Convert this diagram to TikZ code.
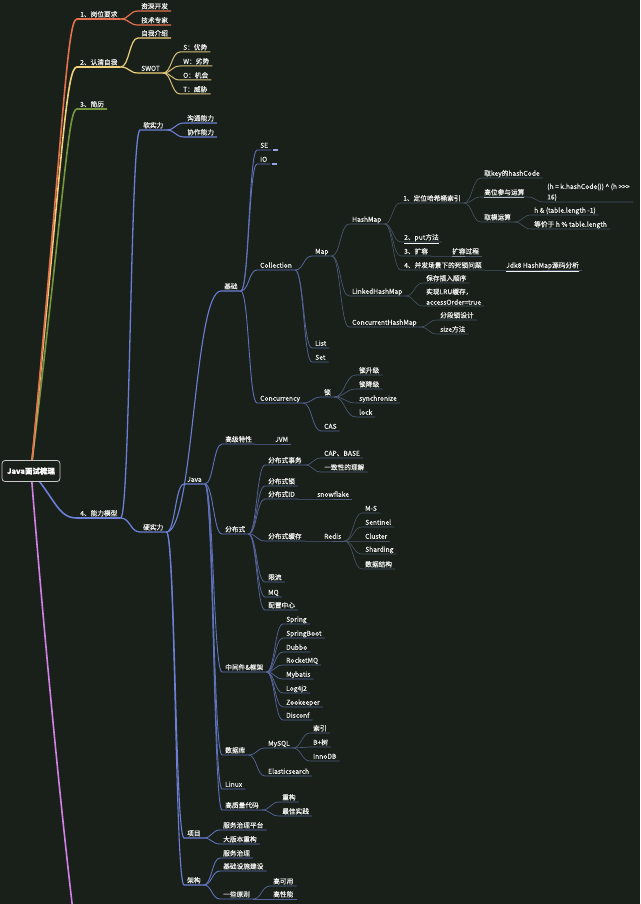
\documentclass[tikz,border=0pt]{standalone}
\usepackage{fontspec}
\setmainfont{Noto Sans CJK SC}[FakeBold=0.12]
\usetikzlibrary{calc}
\definecolor{bg}{RGB}{24,32,25}
\definecolor{ora}{RGB}{228,112,78}
\definecolor{yel}{RGB}{240,208,122}
\definecolor{grn}{RGB}{118,150,62}
\definecolor{blu}{RGB}{108,126,214}
\definecolor{bl3}{RGB}{96,114,188}
\definecolor{bl4}{RGB}{86,100,154}
\definecolor{bl5}{RGB}{78,91,124}
\definecolor{bl6}{RGB}{72,84,104}
\definecolor{pnk}{RGB}{212,128,232}
\definecolor{edge}{RGB}{200,200,200}
\tikzstyle{topic} = [anchor=south west, inner xsep=3pt, inner ysep=1pt, text height=5.6pt, text depth=1pt, text=white!95!black, font=\fontsize{6.7}{10.5}\selectfont]
\tikzstyle{twoline} = [topic, text height={}, text depth={}, align=left]
\tikzstyle{root} = [draw=edge, fill=bg, rounded corners=3pt, line width=0.8pt, minimum width=58pt, minimum height=21pt, text=white, font=\fontsize{7.5}{9}\selectfont\bfseries]
\tikzstyle{oA} = [draw=ora, line width=1.6pt]
\tikzstyle{oB} = [draw=ora, line width=1.2pt]
\tikzstyle{yA} = [draw=yel, line width=1.6pt]
\tikzstyle{yB} = [draw=yel, line width=1.2pt]
\tikzstyle{yC} = [draw=yel!80!gray, line width=1pt]
\tikzstyle{gA} = [draw=grn, line width=1.6pt]
\tikzstyle{pA} = [draw=pnk, line width=1.6pt]
\tikzstyle{bA} = [draw=blu, line width=1.6pt]
\tikzstyle{bB} = [draw=blu, line width=1.3pt]
\tikzstyle{bC} = [draw=blu, line width=1.1pt]
\tikzstyle{bD} = [draw=bl3, line width=0.9pt]
\tikzstyle{bE} = [draw=bl4, line width=0.75pt]
\tikzstyle{bF} = [draw=bl5, line width=0.65pt]
\tikzstyle{bG} = [draw=bl6, line width=0.6pt]
\tikzstyle{fold} = [draw=blu!70!white, line width=1.3pt]
\newcommand{\conn}[3][]{\draw[#1] let \p1=(#2.south east), \p2=(#3.south west) in (\p1) .. controls ({(\x1+\x2)/2},\y1) and ({(\x1+\x2)/2},\y2) .. (\p2) -- (#3.south east);}

\begin{document}
\begin{tikzpicture}[x=1pt,y=-1pt]%
	\useasboundingbox (0,0) rectangle (640,904);%
	\fill[bg] (0,0) rectangle (640,904);%
	\clip (0,0) rectangle (640,904);%
	\coordinate (rc) at (31,471);%
	\coordinate (pinkend) at (74,920);%
	% 1 - 3
	\node[topic] (job) at (77,19) {1、岗位要求};%
	\node[topic] (senior) at (138,11) {资深开发};%
	\node[topic] (expert) at (138,25) {技术专家};%
	\node[topic] (self) at (77,67) {2、认清自我};%
	\node[topic] (intro) at (138,38) {自我介绍};%
	\node[topic] (swot) at (138,73) {SWOT};%
	\node[topic] (swS) at (180,52) {S：优势};%
	\node[topic] (swW) at (180,66) {W：劣势};%
	\node[topic] (swO) at (180,80) {O：机会};%
	\node[topic] (swT) at (180,94) {T：威胁};%
	\node[topic] (cv) at (77,109) {3、简历};%
	% 4
	\node[topic] (model) at (77,518) {4、能力模型};%
	\node[topic] (soft) at (140,130) {软实力};%
	\node[topic] (comm) at (184,123) {沟通能力};%
	\node[topic] (coop) at (184,137) {协作能力};%
	\node[topic] (hard) at (140,532) {硬实力};%
	\node[topic] (basic) at (221,291) {基础};%
	\node[topic] (se) at (257,150) {SE};%
	\node[topic] (io) at (257,164) {IO};%
	\node[topic] (coll) at (257,270) {Collection};%
	\node[topic] (map) at (312,256) {Map};%
	\node[topic] (hashmap) at (349,224) {HashMap};%
	\node[topic] (hm1) at (400,203) {1、定位哈希桶索引};%
	\node[topic] (hcode) at (481,178) {取key的hashCode};%
	\node[topic] (hbit) at (481,197) {\underline{高位参与运算}};%
	\node[twoline] (hexp) at (544,202) {(h = k.hashCode()) \textasciicircum{} (h >{}>{}>\\16)};%
	\node[topic] (hmod) at (481,222) {取模运算};%
	\node[topic] (mod1) at (531,215) {h \& (table.length -1)};%
	\node[topic] (mod2) at (531,229) {等价于 h \% table.length};%
	\node[topic] (hm2) at (401,242) {\underline{2、put方法}};%
	\node[topic] (hm3) at (401,256) {3、扩容};%
	\node[topic] (resize) at (449,256) {\underline{扩容过程}};%
	\node[topic] (hm4) at (401,270) {4、并发场景下的死锁问题};%
	\node[topic] (src) at (503,270) {\underline{Jdk8 HashMap源码分析}};%
	\node[topic] (lhm) at (349,296) {LinkedHashMap};%
	\node[topic] (order) at (423,283) {保存插入顺序};%
	\node[twoline] (lru) at (423,306) {实现LRU缓存，\\accessOrder=true};%
	\node[topic] (chm) at (349,327) {ConcurrentHashMap};%
	\node[topic] (seg) at (437,320) {分段锁设计};%
	\node[topic] (size) at (437,334) {size方法};%
	\node[topic] (list) at (312,348) {List};%
	\node[topic] (set) at (312,362) {Set};%
	\node[topic] (conc) at (257,403) {Concurrency};%
	\node[topic] (lock) at (321,397) {锁};%
	\node[topic] (lockup) at (356,375) {锁升级};%
	\node[topic] (lockdown) at (356,389) {锁降级};%
	\node[topic] (sync) at (356,403) {synchronize};%
	\node[topic] (lk) at (356,417) {lock};%
	\node[topic] (cas) at (321,431) {CAS};%
	\node[topic] (java) at (184,484) {Java};%
	\node[topic] (adv) at (222,444) {高级特性};%
	\node[topic] (jvm) at (272,444) {JVM};%
	\node[topic] (dist) at (222,534) {分布式};%
	\node[topic] (dtx) at (265,465) {分布式事务};%
	\node[topic] (cap) at (321,458) {CAP、BASE};%
	\node[topic] (cons) at (321,472) {一致性的理解};%
	\node[topic] (dlock) at (265,486) {分布式锁};%
	\node[topic] (did) at (265,499) {分布式ID};%
	\node[topic] (snow) at (314,499) {snowflake};%
	\node[topic] (dcache) at (265,541) {分布式缓存};%
	\node[topic] (redis) at (321,541) {Redis};%
	\node[topic] (ms) at (362,513) {M-S};%
	\node[topic] (sentinel) at (362,527) {Sentinel};%
	\node[topic] (cluster) at (362,541) {Cluster};%
	\node[topic] (shard) at (362,554) {Sharding};%
	\node[topic] (dstruct) at (362,569) {数据结构};%
	\node[topic] (limit) at (265,582) {限流};%
	\node[topic] (mq) at (265,597) {MQ};%
	\node[topic] (confc) at (265,610) {配置中心};%
	\node[topic] (mid) at (222,672) {中间件\&框架};%
	\node[topic] (spring) at (283,624) {Spring};%
	\node[topic] (boot) at (283,638) {SpringBoot};%
	\node[topic] (dubbo) at (283,652) {Dubbo};%
	\node[topic] (rmq) at (283,665) {RocketMQ};%
	\node[topic] (mybatis) at (283,679) {Mybatis};%
	\node[topic] (logj) at (283,693) {Log4j2};%
	\node[topic] (zk) at (283,707) {Zookeeper};%
	\node[topic] (disconf) at (283,720) {Disconf};%
	\node[topic] (db) at (222,755) {数据库};%
	\node[topic] (mysql) at (265,748) {MySQL};%
	\node[topic] (idx) at (310,733) {索引};%
	\node[topic] (btree) at (310,747) {B+树};%
	\node[topic] (inno) at (310,761) {InnoDB};%
	\node[topic] (es) at (265,776) {Elasticsearch};%
	\node[topic] (linux) at (222,789) {Linux};%
	\node[topic] (code) at (222,810) {高质量代码};%
	\node[topic] (refac) at (279,802) {重构};%
	\node[topic] (best) at (279,816) {最佳实践};%
	\node[topic] (proj) at (184,838) {项目};%
	\node[topic] (gov) at (220,830) {服务治理平台};%
	\node[topic] (ver) at (220,844) {大版本重构};%
	\node[topic] (arch) at (184,885) {架构};%
	\node[topic] (sgov) at (220,858) {服务治理};%
	\node[topic] (infra) at (220,871) {基础设施建设};%
	\node[topic] (rule) at (220,899) {一些原则};%
	\node[topic] (ha) at (270,886) {高可用};%
	\node[topic] (hp) at (270,899) {高性能};%
	% branches
	\draw[pA] (rc) .. controls (38,560) and (55,760) .. (pinkend);%
	\draw[gA] (rc) .. controls (66,180) and (68,109) .. (cv.south west) -- (cv.south east);%
	\draw[yA] (rc) .. controls (63,150) and (66,67) .. (self.south west) -- (self.south east);%
	\draw[oA] (rc) .. controls (64,120) and (67,19) .. (job.south west) -- (job.south east);%
	\draw[bA] (rc) .. controls (56,500) and (58,518) .. (model.south west) -- (model.south east);%
	\conn[oB]{job}{senior} \conn[oB]{job}{expert}%
	\conn[yB]{self}{intro} \conn[yB]{self}{swot}%
	\conn[yC]{swot}{swS} \conn[yC]{swot}{swW} \conn[yC]{swot}{swO} \conn[yC]{swot}{swT}%
	\conn[bB]{model}{soft} \conn[bB]{model}{hard}%
	\conn[bC]{soft}{comm} \conn[bC]{soft}{coop}%
	\conn[bC]{hard}{basic} \conn[bC]{hard}{java} \conn[bC]{hard}{proj} \conn[bC]{hard}{arch}%
	\conn[bD]{basic}{se} \conn[bD]{basic}{io} \conn[bD]{basic}{coll} \conn[bD]{basic}{conc}%
	\draw[fold] ([xshift=2pt]se.south east) -- ++(5,0);%
	\draw[fold] ([xshift=2pt]io.south east) -- ++(5,0);%
	\conn[bE]{coll}{map} \conn[bE]{coll}{list} \conn[bE]{coll}{set}%
	\conn[bF]{map}{hashmap} \conn[bF]{map}{lhm} \conn[bF]{map}{chm}%
	\conn[bG]{hashmap}{hm1} \conn[bG]{hashmap}{hm2} \conn[bG]{hashmap}{hm3} \conn[bG]{hashmap}{hm4}%
	\conn[bG]{hm1}{hcode} \conn[bG]{hm1}{hbit} \conn[bG]{hm1}{hmod}%
	\conn[bG]{hbit}{hexp} \conn[bG]{hmod}{mod1} \conn[bG]{hmod}{mod2}%
	\conn[bG]{hm3}{resize} \conn[bG]{hm4}{src}%
	\conn[bG]{lhm}{order} \conn[bG]{lhm}{lru}%
	\conn[bG]{chm}{seg} \conn[bG]{chm}{size}%
	\conn[bE]{conc}{lock} \conn[bE]{conc}{cas}%
	\conn[bF]{lock}{lockup} \conn[bF]{lock}{lockdown} \conn[bF]{lock}{sync} \conn[bF]{lock}{lk}%
	\conn[bD]{java}{adv} \conn[bD]{java}{dist} \conn[bD]{java}{mid} \conn[bD]{java}{db} \conn[bD]{java}{linux} \conn[bD]{java}{code}%
	\conn[bE]{adv}{jvm}%
	\conn[bE]{dist}{dtx} \conn[bE]{dist}{dlock} \conn[bE]{dist}{did} \conn[bE]{dist}{dcache} \conn[bE]{dist}{limit} \conn[bE]{dist}{mq} \conn[bE]{dist}{confc}%
	\conn[bF]{dtx}{cap} \conn[bF]{dtx}{cons} \conn[bF]{did}{snow} \conn[bF]{dcache}{redis}%
	\conn[bG]{redis}{ms} \conn[bG]{redis}{sentinel} \conn[bG]{redis}{cluster} \conn[bG]{redis}{shard} \conn[bG]{redis}{dstruct}%
	\conn[bE]{mid}{spring} \conn[bE]{mid}{boot} \conn[bE]{mid}{dubbo} \conn[bE]{mid}{rmq}%
	\conn[bE]{mid}{mybatis} \conn[bE]{mid}{logj} \conn[bE]{mid}{zk} \conn[bE]{mid}{disconf}%
	\conn[bE]{db}{mysql} \conn[bE]{db}{es}%
	\conn[bF]{mysql}{idx} \conn[bF]{mysql}{btree} \conn[bF]{mysql}{inno}%
	\conn[bE]{code}{refac} \conn[bE]{code}{best}%
	\conn[bD]{proj}{gov} \conn[bD]{proj}{ver}%
	\conn[bD]{arch}{sgov} \conn[bD]{arch}{infra} \conn[bD]{arch}{rule}%
	\conn[bE]{rule}{ha} \conn[bE]{rule}{hp}%
	\node[root] (root) at (rc) {Java面试梳理};%
\end{tikzpicture}
\end{document}
